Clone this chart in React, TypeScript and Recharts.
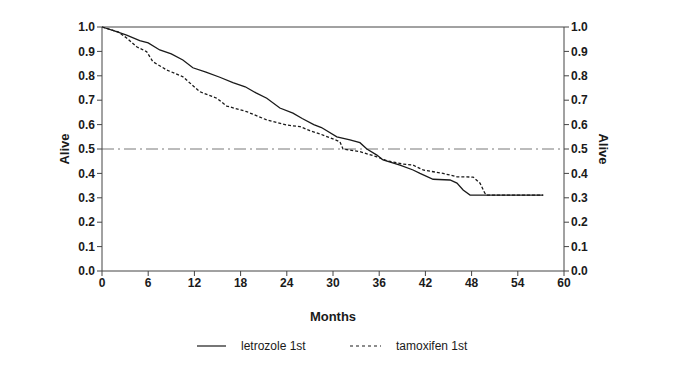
import React from 'react';
import { LineChart, Line, XAxis, YAxis, ReferenceLine } from 'recharts';

const monthTicks = [0, 6, 12, 18, 24, 30, 36, 42, 48, 54, 60];
const aliveTicks = [0, 0.1, 0.2, 0.3, 0.4, 0.5, 0.6, 0.7, 0.8, 0.9, 1.0];

const letrozoleMonths = [0, 1.5, 3.2, 4.9, 6, 7.5, 9, 10.5, 11.8, 13.5, 15.3, 17, 18.6, 20, 21.4, 23.1, 24.8, 26, 27.5, 28.5, 30.5, 32.2, 33.5, 34.4, 35.7, 36.5, 38.7, 40.4, 41.3, 43, 45.2, 46.1, 46.9, 47.8, 57.3];
const letrozoleAlive = [1.0, 0.985, 0.967, 0.944, 0.935, 0.906, 0.89, 0.865, 0.833, 0.815, 0.794, 0.772, 0.755, 0.73, 0.708, 0.668, 0.647, 0.625, 0.6, 0.588, 0.55, 0.537, 0.526, 0.5, 0.475, 0.455, 0.434, 0.414, 0.4, 0.376, 0.373, 0.36, 0.332, 0.311, 0.311];

const tamoxifenMonths = [0, 2.1, 3.2, 4.5, 5.8, 6.6, 8.4, 10.5, 12.7, 14.9, 16.2, 18.8, 21.4, 24, 25.7, 27, 28.3, 30.9, 31.3, 33.5, 35.7, 37, 39.1, 40.4, 41.7, 44.3, 46.1, 48.2, 49.1, 49.7, 50, 57.3];
const tamoxifenAlive = [1.0, 0.98, 0.955, 0.919, 0.899, 0.858, 0.824, 0.796, 0.735, 0.708, 0.676, 0.653, 0.619, 0.598, 0.592, 0.575, 0.562, 0.53, 0.5, 0.489, 0.468, 0.452, 0.438, 0.434, 0.414, 0.4, 0.386, 0.385, 0.36, 0.32, 0.311, 0.311];

const letrozole = letrozoleMonths.map((m, i) => ({ month: m, alive: letrozoleAlive[i] }));
const tamoxifen = tamoxifenMonths.map((m, i) => ({ month: m, alive: tamoxifenAlive[i] }));

const FONT = '"Liberation Sans Narrow", "Liberation Sans", Arial, sans-serif';
const INK = '#1a1a1a';
const AXIS = '#444';

const tickStyle = { fill: INK, fontSize: 12, fontFamily: FONT, fontWeight: 'bold' as const };

const AliveLabel = (side: 'left' | 'right') => (props: any) => {
  const vb = props.viewBox || {};
  const cy = vb.y + vb.height / 2;
  const cx = side === 'left' ? 64 : 603;
  const angle = side === 'left' ? -90 : 90;
  return (
    <text
      x={cx}
      y={cy}
      transform={`rotate(${angle}, ${cx}, ${cy})`}
      textAnchor="middle"
      dominantBaseline="central"
      fill={INK}
      fontSize={13}
      fontWeight="bold"
      fontFamily={FONT}
    >
      Alive
    </text>
  );
};

export default function App() {
  return (
    <div style={{ position: 'absolute', left: 0, top: 0, width: 700, height: 384, background: '#fff' }}>
      <LineChart width={700} height={384} margin={{ top: 27, right: 96, bottom: 83, left: 62 }}>
        <XAxis
          dataKey="month"
          type="number"
          domain={[0, 60]}
          ticks={monthTicks}
          allowDuplicatedCategory={false}
          stroke={AXIS}
          tickSize={5}
          tick={tickStyle}
          height={30}
          label={{ value: 'Months', position: 'insideBottom', offset: -20, fill: INK, fontSize: 13, fontWeight: 'bold', fontFamily: FONT }}
        />
        <YAxis
          yAxisId="left"
          type="number"
          domain={[0, 1]}
          ticks={aliveTicks}
          tickFormatter={(v: number) => v.toFixed(1)}
          stroke={AXIS}
          tickSize={5}
          tick={tickStyle}
          width={40}
          label={{ content: AliveLabel('left') }}
        />
        <YAxis
          yAxisId="right"
          orientation="right"
          type="number"
          domain={[0, 1]}
          ticks={aliveTicks}
          tickFormatter={(v: number) => v.toFixed(1)}
          stroke={AXIS}
          tickSize={5}
          tick={tickStyle}
          width={40}
          label={{ content: AliveLabel('right') }}
        />
        <ReferenceLine yAxisId="left" y={1} stroke={AXIS} strokeWidth={1} />
        <ReferenceLine yAxisId="left" y={0.5} stroke="#555" strokeWidth={0.8} strokeDasharray="12 4 2 4" />
        <Line
          yAxisId="left"
          data={letrozole}
          dataKey="alive"
          type="linear"
          stroke={INK}
          strokeWidth={1.3}
          dot={false}
          isAnimationActive={false}
        />
        <Line
          yAxisId="right"
          data={tamoxifen}
          dataKey="alive"
          type="linear"
          stroke={INK}
          strokeWidth={1.3}
          strokeDasharray="3 2"
          dot={false}
          isAnimationActive={false}
        />
      </LineChart>
      <svg width={700} height={30} style={{ position: 'absolute', left: 0, top: 332 }}>
        <line x1={197} x2={226} y1={14} y2={14} stroke={INK} strokeWidth={1.2} />
        <text x={241} y={14} dominantBaseline="central" fontSize={12} fontFamily={FONT} fill={INK}>letrozole 1st</text>
        <line x1={350} x2={381} y1={14} y2={14} stroke={INK} strokeWidth={1.2} strokeDasharray="3 3" />
        <text x={396} y={14} dominantBaseline="central" fontSize={12} fontFamily={FONT} fill={INK}>tamoxifen 1st</text>
      </svg>
    </div>
  );
}
